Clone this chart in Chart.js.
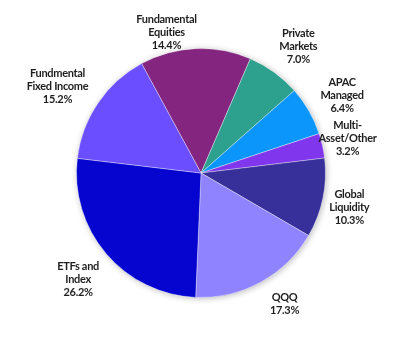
<!DOCTYPE html>
<html>
<head>
<meta charset="utf-8">
<script src="https://cdn.jsdelivr.net/npm/chart.js@4.4.1/dist/chart.umd.min.js"></script>
<style>
    html, body { margin: 0; padding: 0; background: #ffffff; }
    #wrap { width: 415px; height: 345px; position: relative; }
</style>
</head>
<body>
<div id="wrap"><canvas id="aumChart"></canvas></div>
<script>
// ===================================
// AUM breakdown by business line
// ===================================
const SEGMENT_LABELS = [
    ['Fundamental', 'Equities'],
    ['Private', 'Markets'],
    ['APAC', 'Managed'],
    ['Multi-', 'Asset/Other'],
    ['Global', 'Liquidity'],
    ['QQQ'],
    ['ETFs and', 'Index'],
    ['Fundmental', 'Fixed Income']
];
const SEGMENT_SHARE = [14.4, 7.0, 6.4, 3.2, 10.3, 17.3, 26.2, 15.2];

const SEGMENT_COLORS = [
    '#84267f',  // plum
    '#2ea08e',  // teal
    '#0a96fb',  // sky blue
    '#7f36ec',  // violet
    '#38309a',  // indigo
    '#8f83ff',  // lavender
    '#0505cf',  // royal blue
    '#6a4eff'   // periwinkle
];

// small hand nudges so labels don't crowd each other (px)
const LABEL_NUDGE = [
    [-27, 15], [6, 0], [4, 0], [-15, 0], [-5, 3], [11, 0], [-3, 5], [-5, 1]
];

const LABEL_FONT = 'bold 11px Lato';
const LINE_H = 13;

// soft drop shadow behind the pie
const pieShadow = {
    id: 'pieShadow',
    beforeDatasetsDraw(chart) {
        const arc = chart.getDatasetMeta(0).data[0];
        if (!arc) return;
        const ctx = chart.ctx;
        ctx.save();
        ctx.shadowColor = 'rgba(0, 0, 0, 0.28)';
        ctx.shadowBlur = 6;
        ctx.shadowOffsetX = 1;
        ctx.shadowOffsetY = 1;
        ctx.fillStyle = '#ffffff';
        ctx.beginPath();
        ctx.arc(arc.x, arc.y, arc.outerRadius, 0, Math.PI * 2);
        ctx.fill();
        ctx.restore();
    }
};

// category + percentage placed outside each slice
const outsideLabels = {
    id: 'outsideLabels',
    afterDatasetsDraw(chart) {
        const ctx = chart.ctx;
        const meta = chart.getDatasetMeta(0);
        ctx.save();
        ctx.font = LABEL_FONT;
        ctx.letterSpacing = '-0.3px';
        ctx.fillStyle = '#1e1e1e';
        ctx.textAlign = 'center';
        ctx.textBaseline = 'middle';
        meta.data.forEach((arc, i) => {
            const lines = SEGMENT_LABELS[i].concat(SEGMENT_SHARE[i].toFixed(1) + '%');
            const mid = (arc.startAngle + arc.endAngle) / 2;
            const cx = Math.cos(mid), sy = Math.sin(mid);
            const r = arc.outerRadius + 12;
            let w = 0;
            lines.forEach(t => { w = Math.max(w, ctx.measureText(t).width); });
            const h = lines.length * LINE_H;
            const x = arc.x + cx * r + cx * w / 2 + LABEL_NUDGE[i][0];
            const y = arc.y + sy * r + sy * h / 2 + LABEL_NUDGE[i][1];
            lines.forEach((t, k) => {
                ctx.fillText(t, x, y - h / 2 + LINE_H / 2 + k * LINE_H);
            });
        });
        ctx.restore();
    }
};

function initAumChart() {
    const ctx = document.getElementById('aumChart').getContext('2d');

    new Chart(ctx, {
        type: 'pie',
        data: {
            labels: SEGMENT_LABELS,
            datasets: [{
                data: SEGMENT_SHARE,
                backgroundColor: SEGMENT_COLORS,
                borderWidth: 1,
                borderColor: 'rgba(255, 255, 255, 0.35)'
            }]
        },
        options: {
            responsive: true,
            maintainAspectRatio: false,
            animation: false,
            rotation: -28.5,
            layout: {
                padding: { left: 76, right: 89, top: 48, bottom: 47 }
            },
            plugins: {
                legend: { display: false },
                title: { display: false },
                tooltip: { enabled: false }
            }
        },
        plugins: [pieShadow, outsideLabels]
    });
}

initAumChart();
</script>
</body>
</html>
